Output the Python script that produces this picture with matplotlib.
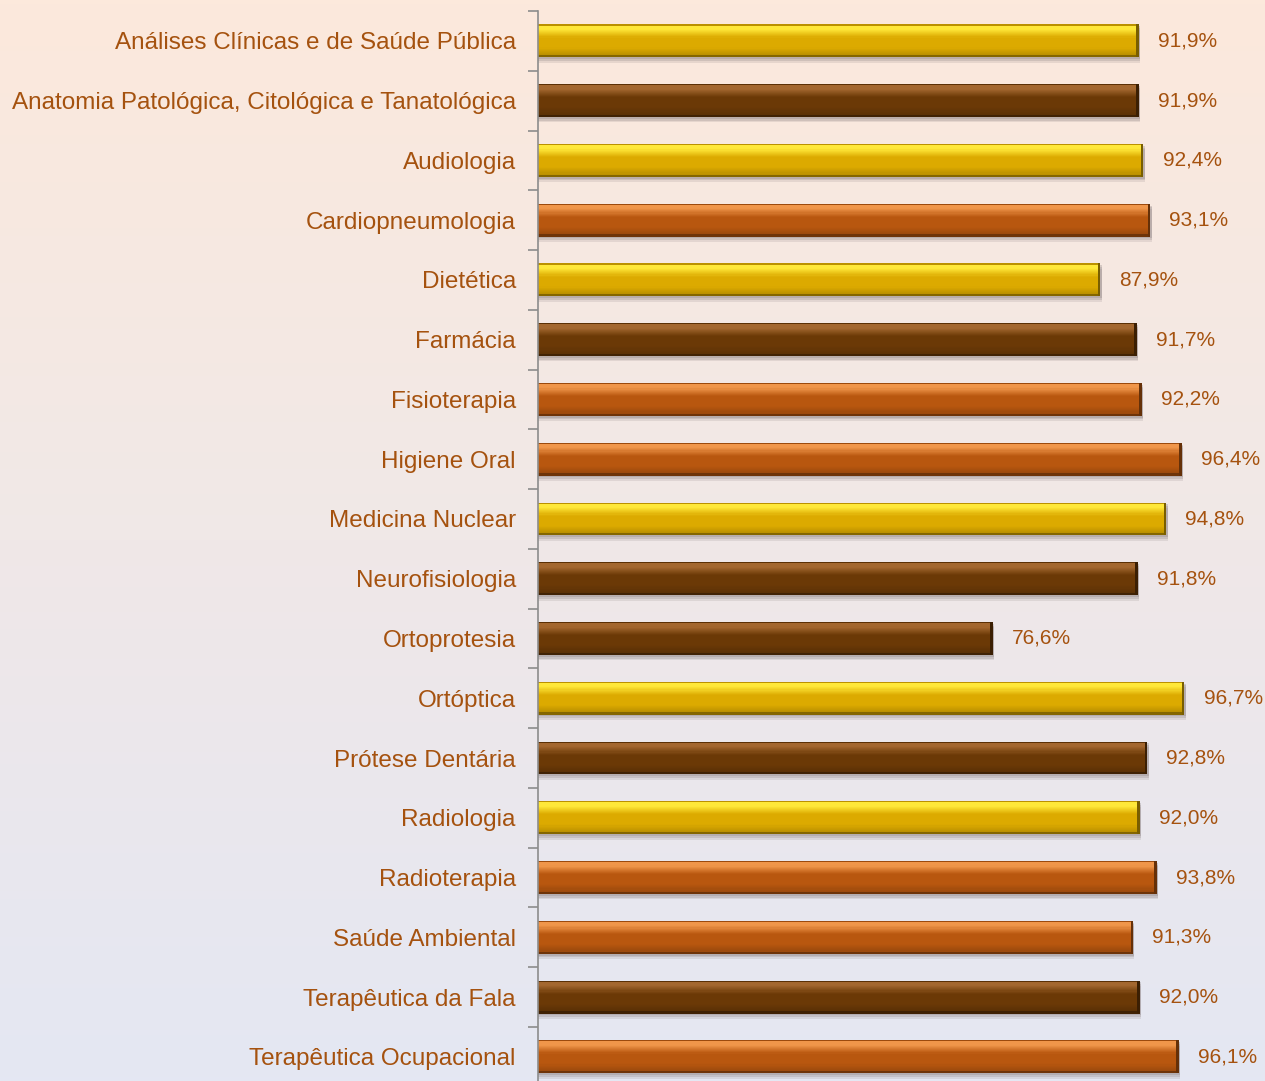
import numpy as np
import matplotlib.pyplot as plt
from matplotlib.colors import to_rgb

categories = ['Análises Clínicas e de Saúde Pública',
              'Anatomia Patológica, Citológica e Tanatológica',
              'Audiologia', 'Cardiopneumologia', 'Dietética', 'Farmácia',
              'Fisioterapia', 'Higiene Oral', 'Medicina Nuclear',
              'Neurofisiologia', 'Ortoprotesia', 'Ortóptica',
              'Prótese Dentária', 'Radiologia', 'Radioterapia',
              'Saúde Ambiental', 'Terapêutica da Fala',
              'Terapêutica Ocupacional']
values = [91.9, 91.9, 92.4, 93.1, 87.9, 91.7, 92.2, 96.4, 94.8,
          91.8, 76.6, 96.7, 92.8, 92.0, 93.8, 91.3, 92.0, 96.1]
labels = ['91,9%', '91,9%', '92,4%', '93,1%', '87,9%', '91,7%', '92,2%',
          '96,4%', '94,8%', '91,8%', '76,6%', '96,7%', '92,8%', '92,0%',
          '93,8%', '91,3%', '92,0%', '96,1%']
# Y = yellow, B = brown, O = orange
groups = ['Y', 'B', 'Y', 'O', 'Y', 'B', 'O', 'O', 'Y',
          'B', 'B', 'Y', 'B', 'Y', 'O', 'O', 'B', 'O']
palette = {'Y': '#DCAA00', 'B': '#6B3906', 'O': '#B8570F'}
highlight = {'Y': '#FFE83A', 'B': '#A3672F', 'O': '#F0964A'}

plt.rcParams['font.family'] = ['Liberation Sans', 'DejaVu Sans']
text_color = '#A5520F'

fig = plt.figure(figsize=(12.65, 10.81), dpi=100)

# background gradient
bg = fig.add_axes([0, 0, 1, 1], zorder=0)
top = np.array(to_rgb('#FCE9DC'))
bot = np.array(to_rgb('#E4E7F3'))
t = np.linspace(0, 1, 256)[:, None]
grad = (top * (1 - t) + bot * t)[:, None, :]
bg.imshow(grad, aspect='auto', extent=[0, 1, 0, 1])
bg.axis('off')

ax = fig.add_axes([538 / 1265, -5.7 / 1081, (1216 - 538) / 1265, 1075.7 / 1081], zorder=1)
ax.patch.set_alpha(0)
n = len(categories)
y = np.arange(n)
vals = np.array(values)
h = 0.55
xmin = 29


def shade(g, f):
    # colour of the bar at fraction f from its top edge (bevel look)
    base = np.array(to_rgb(palette[g]))
    hi = np.array(to_rgb(highlight[g]))
    if f < 0.04:
        return base * 0.85
    if f < 0.14:
        return hi
    if f < 0.4:
        w = (f - 0.14) / 0.26
        return hi * (1 - w) + base * w
    if f < 0.7:
        return base
    if f < 0.92:
        w = (f - 0.7) / 0.22
        return base * (1 - 0.15 * w)
    return base * 0.6


# shadow
for off, a in [(0.09, 0.18), (0.06, 0.25), (0.03, 0.3)]:
    ax.barh(y + off, vals - xmin + 0.15, left=xmin, height=h,
            color='#8E8484', alpha=a, zorder=1, linewidth=0)
# bar body, drawn as thin stripes for the gradient
K = 30
for k in range(K):
    f = (k + 0.5) / K
    ax.barh(y - h / 2 + f * h, vals - xmin, left=xmin, height=h / K * 1.05,
            color=[shade(g, f) for g in groups], zorder=2, linewidth=0)
# dark right edge
ax.barh(y, 0.25, left=vals - 0.25, height=h,
        color=[np.array(to_rgb(palette[g])) * 0.55 for g in groups],
        zorder=3, linewidth=0)

for yi, v, lab in zip(y, values, labels):
    ax.text(v + 2, yi, lab, va='center', ha='left', fontsize=15,
            color=text_color, clip_on=False)

ax.set_xlim(xmin, 100)
ax.set_ylim(n - 0.5, -0.5)
ax.set_yticks(y)
ax.set_yticklabels(categories, fontsize=17.5, color=text_color)
ax.tick_params(axis='y', which='major', length=0, pad=16)
ax.set_yticks(np.arange(n + 1) - 0.5, minor=True)
ax.tick_params(axis='y', which='minor', length=7, color='#8C8C8C', width=1.2)
ax.set_xticks([])
for s in ['top', 'right', 'bottom']:
    ax.spines[s].set_visible(False)
ax.spines['left'].set_color('#8C8C8C')
ax.spines['left'].set_linewidth(1.2)
ax.spines['left'].set_zorder(5)

fig.savefig('out.png', dpi=100)
